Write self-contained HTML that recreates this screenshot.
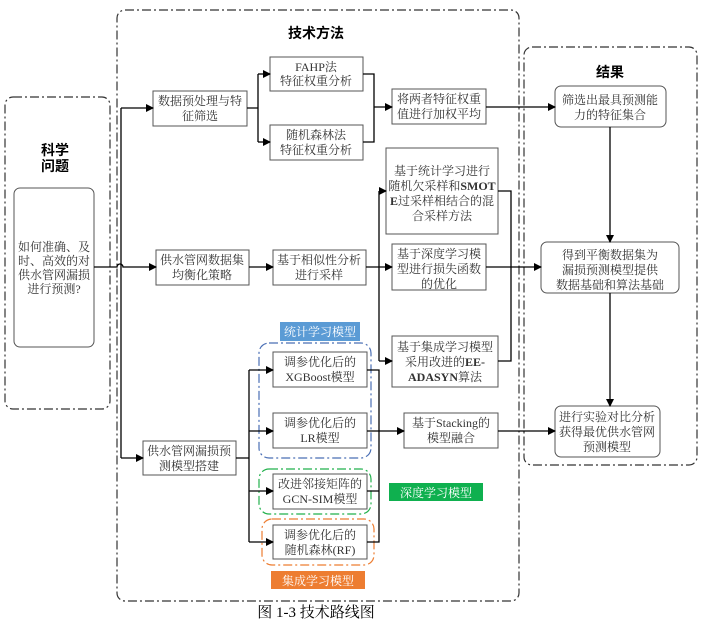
<!DOCTYPE html>
<html><head><meta charset="utf-8"><style>
html,body{margin:0;padding:0;background:#fff;}
svg{display:block;}
text{font-family:"Liberation Serif","Noto Serif CJK SC","Noto Sans CJK SC",serif;font-size:12px;fill:#333;}
.b{font-family:"Liberation Sans","Noto Sans CJK SC",sans-serif;font-weight:bold;font-size:14px;fill:#000;}
</style></head><body>
<svg width="702" height="625" viewBox="0 0 702 625" xmlns="http://www.w3.org/2000/svg">
<defs><marker id="a" markerWidth="8" markerHeight="8" refX="7" refY="4" orient="auto" markerUnits="userSpaceOnUse"><path d="M0,0 L8,4 L0,8 z" fill="#000"/></marker></defs>
<g fill="none" stroke="#333" stroke-width="1.2" stroke-dasharray="9,3,2,3">
<rect x="5" y="97" width="105" height="312" rx="8"/>
<rect x="117" y="10" width="402" height="591" rx="8"/>
<rect x="524" y="47" width="173" height="418" rx="8"/>
<rect x="259" y="343" width="112" height="115" rx="10" stroke="#4a6fb5"/>
<rect x="259" y="469" width="112" height="45" rx="10" stroke="#22b14c"/>
<rect x="262" y="519" width="112" height="46" rx="10" stroke="#ed7d31"/>
</g>
<text class="b" x="316" y="38" text-anchor="middle">技术方法</text>
<text class="b" x="610" y="77" text-anchor="middle">结果</text>
<text class="b" x="55" y="155" text-anchor="middle">科学</text>
<text class="b" x="55" y="171" text-anchor="middle">问题</text>
<g fill="#fff" stroke="#555" stroke-width="1">
<rect x="14" y="188" width="80" height="159" rx="6"/>
<rect x="153" y="91" width="94" height="35"/>
<rect x="270" y="57" width="93" height="34"/>
<rect x="270" y="125" width="93" height="35"/>
<rect x="392" y="89" width="94" height="35"/>
<rect x="555" y="86" width="111" height="41" rx="6"/>
<rect x="386" y="148" width="112" height="86"/>
<rect x="156" y="250" width="93" height="35"/>
<rect x="273" y="250" width="93" height="35"/>
<rect x="392" y="244" width="94" height="46"/>
<rect x="541" y="242" width="138" height="51" rx="6"/>
<rect x="392" y="336" width="106" height="51"/>
<rect x="404" y="413" width="94" height="35"/>
<rect x="555" y="406" width="105" height="51" rx="6"/>
<rect x="143" y="441" width="93" height="34"/>
<rect x="273" y="352" width="94" height="35"/>
<rect x="273" y="413" width="94" height="35"/>
<rect x="273" y="474" width="94" height="35"/>
<rect x="273" y="525" width="94" height="34"/>
</g>
<rect x="280" y="322" width="80" height="19" fill="#5b9bd5"/>
<rect x="389" y="483" width="94" height="18" fill="#0fb04f"/>
<rect x="271" y="571" width="94" height="18" fill="#ed7d31"/>
<g fill="none" stroke="#000" stroke-width="1.3">
<path d="M94,267 H117 a3,3 0 0 1 6,0 H156" marker-end="url(#a)"/>
<path d="M121,108 V458"/>
<path d="M121,108 H153" marker-end="url(#a)"/>
<path d="M121,458 H143" marker-end="url(#a)"/>
<path d="M247,108 H258 M258,74 V142"/>
<path d="M258,74 H270" marker-end="url(#a)"/>
<path d="M258,142 H270" marker-end="url(#a)"/>
<path d="M363,74 H374 V142 H363 M374,107 H392" marker-end="url(#a)"/>
<path d="M486,107 H555" marker-end="url(#a)"/>
<path d="M610,127 V242" marker-end="url(#a)"/>
<path d="M610,293 V406" marker-end="url(#a)"/>
<path d="M249,267 H273" marker-end="url(#a)"/>
<path d="M366,267 H392" marker-end="url(#a)"/>
<path d="M379,191 V361"/>
<path d="M379,191 H386" marker-end="url(#a)"/>
<path d="M379,361 H392" marker-end="url(#a)"/>
<path d="M498,191 H511 V361 H498"/>
<path d="M486,267 H541" marker-end="url(#a)"/>
<path d="M236,458 H249 M249,370 V542"/>
<path d="M249,370 H273" marker-end="url(#a)"/>
<path d="M249,431 H273" marker-end="url(#a)"/>
<path d="M249,491 H273" marker-end="url(#a)"/>
<path d="M249,542 H273" marker-end="url(#a)"/>
<path d="M367,370 H379 V542 H367 M367,491 H379"/>
<path d="M367,431 H404" marker-end="url(#a)"/>
<path d="M498,431 H555" marker-end="url(#a)"/>
</g>
<g text-anchor="middle">
<text x="54" y="251">如何准确、及</text>
<text x="54" y="265">时、高效的对</text>
<text x="54" y="279">供水管网漏损</text>
<text x="54" y="293">进行预测?</text>
<text x="200" y="105">数据预处理与特</text>
<text x="200" y="120">征筛选</text>
<text x="316" y="71">FAHP法</text>
<text x="316" y="85">特征权重分析</text>
<text x="316" y="139">随机森林法</text>
<text x="316" y="154">特征权重分析</text>
<text x="439" y="103">将两者特征权重</text>
<text x="439" y="118">值进行加权平均</text>
<text x="610" y="104">筛选出最具预测能</text>
<text x="610" y="119">力的特征集合</text>
<text x="442" y="175">基于统计学习进行</text>
<text x="442" y="190">随机欠采样和<tspan font-weight="bold">SMOT</tspan></text>
<text x="442" y="205"><tspan font-weight="bold">E</tspan>过采样相结合的混</text>
<text x="442" y="220">合采样方法</text>
<text x="202" y="264">供水管网数据集</text>
<text x="202" y="279">均衡化策略</text>
<text x="319" y="264">基于相似性分析</text>
<text x="319" y="279">进行采样</text>
<text x="439" y="258">基于深度学习模</text>
<text x="439" y="273">型进行损失函数</text>
<text x="439" y="288">的优化</text>
<text x="610" y="259">得到平衡数据集为</text>
<text x="610" y="274">漏损预测模型提供</text>
<text x="610" y="289">数据基础和算法基础</text>
<text x="445" y="351">基于集成学习模型</text>
<text x="445" y="366">采用改进的<tspan font-weight="bold">EE-</tspan></text>
<text x="445" y="381" font-weight="bold">ADASYN<tspan font-weight="normal">算法</tspan></text>
<text x="451" y="427">基于Stacking的</text>
<text x="451" y="442">模型融合</text>
<text x="607" y="421">进行实验对比分析</text>
<text x="607" y="436">获得最优供水管网</text>
<text x="607" y="451">预测模型</text>
<text x="189" y="455">供水管网漏损预</text>
<text x="189" y="470">测模型搭建</text>
<text x="320" y="366">调参优化后的</text>
<text x="320" y="381">XGBoost模型</text>
<text x="320" y="427">调参优化后的</text>
<text x="320" y="442">LR模型</text>
<text x="320" y="488">改进邻接矩阵的</text>
<text x="320" y="503">GCN-SIM模型</text>
<text x="320" y="539">调参优化后的</text>
<text x="320" y="554">随机森林(RF)</text>
<text x="320" y="336" style="fill:#fff">统计学习模型</text>
<text x="436" y="497" style="fill:#fff">深度学习模型</text>
<text x="318" y="585" style="fill:#fff">集成学习模型</text>
<text x="316" y="617" style="font-size:15px;fill:#000">图 1-3 技术路线图</text>
</g>
</svg>
</body></html>
